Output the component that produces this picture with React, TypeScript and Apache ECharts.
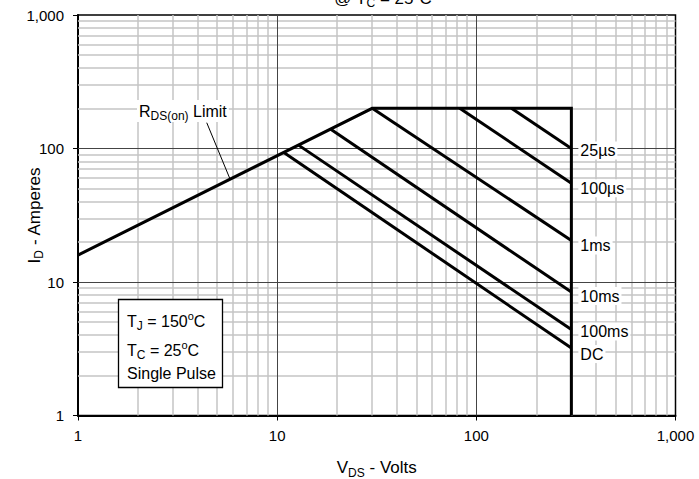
import React, { useEffect, useRef } from "react";
import * as echarts from "echarts";

// ---- data ----
const xMinorGrid = [2, 3, 4, 5, 6, 7, 8, 9, 20, 30, 40, 50, 60, 70, 80, 90, 200, 300, 400, 500, 600, 700, 800, 900];
const yMinorGrid = [2, 3, 4, 5, 6, 7, 8, 9, 20, 30, 40, 50, 60, 70, 80, 90, 200, 300, 400, 500, 600, 700, 800, 900];
const majorGrid = [10, 100];

// R_DS(on) limit, current limit, voltage limit
const boundary: number[][] = [[1, 15.9], [30, 200], [300, 200], [300, 1]];

const pulseNames = ["25µs", "100µs", "1ms", "10ms", "100ms", "DC"];
const pulseStart: number[][] = [[150, 200], [82.5, 200], [30, 200], [18.5, 140], [12.8, 106], [10.8, 93.5]];
const pulseEnd: number[][] = [[300, 100], [300, 55], [300, 20.5], [300, 8.4], [300, 4.4], [300, 3.2]];

const leader: number[][] = [[4.43, 156], [5.8, 59]];

const FONT = '"Liberation Sans", Arial, Helvetica, sans-serif';

function rich(size: number) {
  return {
    m: { fontSize: size, lineHeight: 22, fontFamily: FONT, color: "#000" },
    s: { fontSize: Math.round(size * 0.72), lineHeight: 12, verticalAlign: "bottom", fontFamily: FONT, color: "#000" },
    p: { fontSize: Math.round(size * 0.66), lineHeight: 8, verticalAlign: "top", fontFamily: FONT, color: "#000" },
  };
}

export default function App() {
  const ref = useRef<HTMLDivElement>(null);
  useEffect(() => {
    document.body.style.margin = "0";
    const chart = echarts.init(ref.current!, undefined, { renderer: "svg" });
    const labelDy = [2, 5, 5, 4, 2, 6];

    const pulseSeries = pulseNames.map((name, i) => ({
      type: "line",
      name,
      z: 10,
      data: [pulseStart[i], pulseEnd[i]],
      symbol: "none",
      lineStyle: { color: "#000", width: 3 },
      silent: true,
      endLabel: {
        show: true,
        formatter: name,
        color: "#000",
        fontSize: 16,
        fontFamily: FONT,
        backgroundColor: "#fff",
        padding: [1, 2],
        distance: 7,
        offset: [0, labelDy[i]],
      },
    }));

    const option: any = {
      animation: false,
      backgroundColor: "#fff",
      grid: {
        left: 78,
        right: 23.5,
        top: 15,
        bottom: 63.5,
        containLabel: false,
        outerBoundsMode: "none",
        show: true,
        borderColor: "#000",
        borderWidth: 1.5,
        backgroundColor: "#fff",
      },
      xAxis: {
        type: "log",
        logBase: 10,
        min: 1,
        max: 1000,
        name: "{m|V}{s|DS}{m| - Volts}",
        nameLocation: "middle",
        nameGap: 41,
        nameMoveOverlap: false,
        nameTextStyle: { rich: rich(17) },
        axisLine: { show: true, lineStyle: { color: "#000", width: 2 } },
        axisTick: { show: true, length: 5, inside: false, lineStyle: { color: "#000", width: 1 } },
        axisLabel: {
          margin: 12,
          color: "#000",
          fontSize: 15,
          fontFamily: FONT,
          formatter: (v: number) => Math.round(v).toLocaleString("en-US"),
        },
        splitLine: { show: false },
      },
      yAxis: {
        type: "log",
        logBase: 10,
        min: 1,
        max: 1000,
        name: "{m|I}{s|D}{m| - Amperes}",
        nameLocation: "middle",
        nameGap: 33,
        nameMoveOverlap: false,
        nameTextStyle: { rich: rich(17) },
        axisLine: { show: true, lineStyle: { color: "#000", width: 2 } },
        axisTick: { show: true, length: 5, inside: false, lineStyle: { color: "#000", width: 1 } },
        axisLabel: {
          margin: 14,
          color: "#000",
          fontSize: 15,
          fontFamily: FONT,
          formatter: (v: number) => Math.round(v).toLocaleString("en-US"),
        },
        splitLine: { show: false },
      },
      series: [
        {
          type: "line",
          name: "minorGrid",
          data: [],
          silent: true,
          z: 1,
          markLine: {
            z: 1,
            silent: true,
            animation: false,
            symbol: ["none", "none"],
            label: { show: false },
            lineStyle: { color: "#c4c4c4", width: 1.5, type: "solid" },
            emphasis: { disabled: true },
            data: [
              ...xMinorGrid.map((v) => ({ xAxis: v })),
              ...yMinorGrid.map((v) => ({ yAxis: v })),
            ],
          },
        },
        {
          type: "line",
          name: "majorGrid",
          data: [],
          silent: true,
          z: 2,
          markLine: {
            z: 2,
            silent: true,
            animation: false,
            symbol: ["none", "none"],
            label: { show: false },
            lineStyle: { color: "#444", width: 1, type: "solid" },
            emphasis: { disabled: true },
            data: [
              ...majorGrid.map((v) => ({ xAxis: v })),
              ...majorGrid.map((v) => ({ yAxis: v })),
            ],
          },
        },
        {
          type: "line",
          name: "boundary",
          z: 10,
          data: boundary,
          symbol: "none",
          silent: true,
          lineStyle: { color: "#000", width: 3, join: "miter" },
        },
        ...pulseSeries,
        {
          type: "line",
          name: "leader",
          z: 10,
          data: leader,
          symbol: "none",
          silent: true,
          lineStyle: { color: "#000", width: 1 },
        },
      ],
      graphic: [
        {
          type: "text",
          z: 100,
          x: 383,
          y: 9,
          style: {
            text: "{m|@ T}{s|C}{m| = 25}{p|o}{m|C}",
            rich: rich(17),
            align: "center",
            verticalAlign: "bottom",
          },
        },
        {
          type: "text",
          z: 100,
          x: 137,
          y: 111,
          style: {
            text: "{m|R}{s|DS(on)}{m| Limit}",
            rich: rich(16),
            align: "left",
            verticalAlign: "middle",
            backgroundColor: "#fff",
            padding: [0, 2],
          },
        },
        {
          type: "rect",
          z: 100,
          shape: { x: 118.5, y: 299.5, width: 104, height: 88 },
          style: { fill: "#fff", stroke: "#000", lineWidth: 1.3 },
        },
        {
          type: "text",
          z: 101,
          x: 127,
          y: 321,
          style: { text: "{m|T}{s|J}{m| = 150}{p|o}{m|C}", rich: rich(16), align: "left", verticalAlign: "middle" },
        },
        {
          type: "text",
          z: 101,
          x: 127,
          y: 350,
          style: { text: "{m|T}{s|C}{m| = 25}{p|o}{m|C}", rich: rich(16), align: "left", verticalAlign: "middle" },
        },
        {
          type: "text",
          z: 101,
          x: 127,
          y: 373,
          style: { text: "{m|Single Pulse}", rich: rich(16), align: "left", verticalAlign: "middle" },
        },
      ],
    };
    chart.setOption(option);
    return () => chart.dispose();
  }, []);
  return <div ref={ref} style={{ width: 699, height: 479 }} />;
}
